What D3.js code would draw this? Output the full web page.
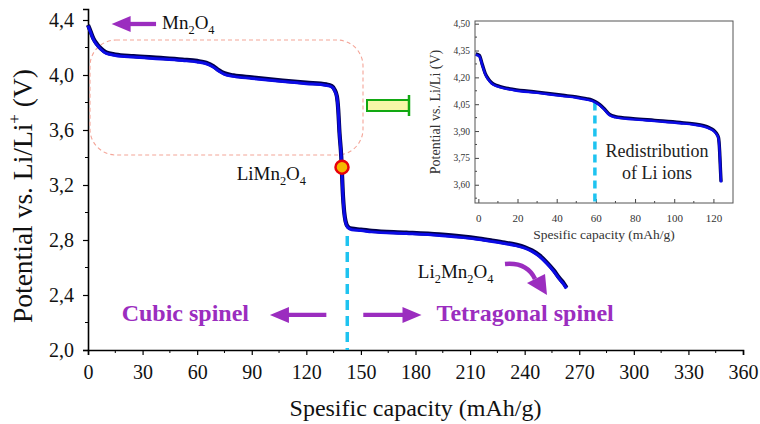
<!DOCTYPE html>
<html>
<head>
<meta charset="utf-8">
<script src="https://cdn.jsdelivr.net/npm/d3@7"></script>
<style>
  body { margin: 0; background: #fff; }
  svg, svg text { font-family: "Liberation Serif", "DejaVu Serif", "Times New Roman", Times, serif; }
</style>
</head>
<body>
<div id="chart"></div>
<script>
// main discharge curve (capacity mAh/g, potential V)
const mainCap = [0, 1.5, 3, 5, 7, 10, 15, 25, 40, 52, 60, 65, 69, 72, 75, 80, 90, 107, 120, 131, 134, 135.5, 136.8, 137.5, 138.2, 139.2, 140, 140.8, 141.6, 142.8, 145, 150, 156, 175, 193, 205, 215, 222, 229, 235, 240, 244, 248, 252, 256, 259, 261.5, 263]
const mainV   = [4.36, 4.31, 4.26, 4.22, 4.19, 4.16, 4.145, 4.133, 4.12, 4.108, 4.098, 4.085, 4.06, 4.03, 4.008, 3.993, 3.978, 3.955, 3.94, 3.927, 3.915, 3.89, 3.84, 3.75, 3.58, 3.40, 3.15, 3.0, 2.93, 2.893, 2.878, 2.872, 2.862, 2.85, 2.836, 2.822, 2.806, 2.792, 2.777, 2.762, 2.744, 2.72, 2.685, 2.635, 2.575, 2.52, 2.48, 2.45]

// inset curve
const insetCap = [-1.3, 0.5, 2, 3.5, 5, 7, 10, 18, 30, 43, 50, 55, 58, 60, 62, 64, 67, 70, 79, 90, 103, 110, 115, 118, 120, 121.5, 122.6, 123.2, 123.6, 123.9]
const insetV   = [4.328, 4.32, 4.27, 4.22, 4.19, 4.165, 4.15, 4.13, 4.115, 4.097, 4.088, 4.078, 4.07, 4.06, 4.045, 4.025, 3.99, 3.978, 3.967, 3.957, 3.945, 3.937, 3.927, 3.915, 3.903, 3.885, 3.86, 3.78, 3.68, 3.614]

const mainXTicks = d3.range(0, 361, 30)
const mainYTicks = [2.0, 2.4, 2.8, 3.2, 3.6, 4.0, 4.4]
const insetXTicks = [0, 20, 40, 60, 80, 100, 120]
const insetYTicks = [3.60, 3.75, 3.90, 4.05, 4.20, 4.35, 4.50]

const phaseBoundary = 142.5   // cubic / tetragonal
const redistribution = 59.5   // inset dashed line
const markerPoint = [139.6, 3.33]

const W = 760, H = 424
const purple = "#9b2dbf", blue = "#0b0be6", cyan = "#1ec3f0"
const serif = "'Liberation Serif', 'DejaVu Serif', 'Times New Roman', serif"

const svg = d3.select("#chart").append("svg")
  .attr("width", W).attr("height", H)
  .style("font-family", serif)

const x = d3.scaleLinear().domain([0, 360]).range([88, 743])
const y = d3.scaleLinear().domain([2.0, 4.48]).range([350, 9])

const comma = f => v => d3.format(f)(v).replace(".", ",")

// main axes
const gx = svg.append("g").attr("transform", `translate(0,${y(2.0)})`)
  .call(d3.axisBottom(x).tickValues(mainXTicks).tickSize(5).tickPadding(10).tickFormat(d3.format("d")))
gx.append("g").selectAll("line").data(d3.range(15, 360, 30)).enter().append("line")
  .attr("x1", d => x(d)).attr("x2", d => x(d)).attr("y1", 0).attr("y2", 3).attr("stroke", "#000")

const gy = svg.append("g").attr("transform", `translate(${x(0)},0)`)
  .call(d3.axisLeft(y).tickValues(mainYTicks).tickSize(5).tickPadding(9).tickFormat(comma(".1f")))
gy.append("g").selectAll("line").data([2.2, 2.6, 3.0, 3.4, 3.8, 4.2]).enter().append("line")
  .attr("y1", d => y(d)).attr("y2", d => y(d)).attr("x1", 0).attr("x2", -3).attr("stroke", "#000")

for (const g of [gx, gy]) {
  g.attr("font-family", null)
  g.select(".domain").attr("stroke-width", 1.6)
  g.selectAll(".tick line").attr("stroke-width", 1.2)
  g.selectAll("text").attr("font-size", 20).style("font-family", serif).attr("fill", "#111")
}

// axis titles
svg.append("text").attr("x", (x(0) + x(360)) / 2).attr("y", 416)
  .attr("text-anchor", "middle").attr("font-size", 24).attr("fill", "#111")
  .text("Spesific capacity (mAh/g)")

const yt = svg.append("text").attr("transform", `translate(32,${y(3.12)}) rotate(-90)`)
  .attr("text-anchor", "middle").attr("font-size", 27.5).attr("fill", "#111")
yt.append("tspan").text("Potential vs. Li/Li")
yt.append("tspan").attr("dy", -12).attr("font-size", 17).text("+")
yt.append("tspan").attr("dy", 12).text(" (V)")

// dashed rounded highlight box
svg.append("rect").attr("x", 90).attr("y", 40).attr("width", 273).attr("height", 115)
  .attr("rx", 26).attr("fill", "none").attr("stroke", "#f4a598")
  .attr("stroke-width", 1.1).attr("stroke-dasharray", "4,3")

// phase boundary dashed line
svg.append("line").attr("x1", x(phaseBoundary)).attr("x2", x(phaseBoundary))
  .attr("y1", y(2.83)).attr("y2", y(2.0))
  .attr("stroke", cyan).attr("stroke-width", 3.5).attr("stroke-dasharray", "10,6")

// main curve
const mainData = mainCap.map((c, i) => [c, mainV[i]])
const line = d3.line().x(d => x(d[0])).y(d => y(d[1])).curve(d3.curveMonotoneX)
svg.append("path").datum(mainData).attr("d", line)
  .attr("fill", "none").attr("stroke", "#00004a").attr("stroke-width", 4.2)
  .attr("transform", "translate(0,-0.6)")
svg.append("path").datum(mainData).attr("d", line)
  .attr("fill", "none").attr("stroke", blue).attr("stroke-width", 3)
  .attr("transform", "translate(0,0.4)")

// marker
svg.append("circle").attr("cx", x(markerPoint[0])).attr("cy", y(markerPoint[1])).attr("r", 6.5)
  .attr("fill", "#f5b800").attr("stroke", "#e8000a").attr("stroke-width", 2.5)

// straight arrows
function arrow(x1, x2, yy) {
  const dir = Math.sign(x2 - x1), headL = 19, headW = 8
  svg.append("line").attr("x1", x1).attr("x2", x2 - dir * headL + dir * 2)
    .attr("y1", yy).attr("y2", yy).attr("stroke", purple).attr("stroke-width", 4.3)
  svg.append("path").attr("fill", purple)
    .attr("d", `M${x2},${yy} L${x2 - dir * headL},${yy - headW} L${x2 - dir * headL},${yy + headW} Z`)
}
arrow(x(37.4), x(13), y(4.371))
arrow(x(131), x(100), y(2.255))
arrow(x(151.3), x(183.3), y(2.255))

// curved arrow to the end of the curve
svg.append("path").attr("d", "M505,264 Q527,262 535,279")
  .attr("fill", "none").attr("stroke", purple).attr("stroke-width", 4.5)
svg.append("path").attr("d", "M527,283 L545,274 L547,295 Z").attr("fill", purple)

// labels with subscripts
function chem(xx, yy, parts, size) {
  const t = svg.append("text").attr("x", xx).attr("y", yy).attr("font-size", size).attr("fill", "#111")
  let shifted = false
  parts.forEach(p => {
    const sub = typeof p === "number"
    const s = t.append("tspan").text(p)
    if (sub && !shifted) { s.attr("dy", 5).attr("font-size", size * 0.65); shifted = true }
    else if (sub) s.attr("font-size", size * 0.65)
    else if (shifted) { s.attr("dy", -5); shifted = false }
  })
  return t
}
chem(x(40.7), y(4.335), ["Mn", 2, "O", 4], 19)
chem(x(81.7), y(3.236), ["LiMn", 2, "O", 4], 19)
chem(x(181.3), y(2.524), ["Li", 2, "Mn", 2, "O", 4], 19)

svg.append("text").attr("x", x(18.5)).attr("y", y(2.21)).attr("font-size", 24)
  .attr("font-weight", "bold").attr("fill", purple).text("Cubic spinel")
svg.append("text").attr("x", x(191.6)).attr("y", y(2.21)).attr("font-size", 24)
  .attr("font-weight", "bold").attr("fill", purple).text("Tetragonal spinel")

// "equals" bracket symbol
svg.append("path").attr("d", "M408,100 L367,100 L367,111 L408,111")
  .attr("fill", "#f6f6a8").attr("stroke", "#12a812").attr("stroke-width", 2)
svg.append("line").attr("x1", 409).attr("x2", 409).attr("y1", 95).attr("y2", 116)
  .attr("stroke", "#12a812").attr("stroke-width", 2.5)

// ---------------- inset ----------------
const ix = d3.scaleLinear().domain([-1.7, 130]).range([475, 733])
const iy = d3.scaleLinear().domain([3.498, 4.515]).range([203, 21])
const inset = svg.append("g")

const igx = inset.append("g").attr("transform", `translate(0,203)`)
  .call(d3.axisBottom(ix).tickValues(insetXTicks).tickSizeInner(-4).tickSizeOuter(0).tickPadding(11).tickFormat(d3.format("d")))
igx.append("g").selectAll("line").data(d3.range(10, 130, 20)).enter().append("line")
  .attr("x1", d => ix(d)).attr("x2", d => ix(d)).attr("y1", 0).attr("y2", -2).attr("stroke", "#444")
const igy = inset.append("g").attr("transform", `translate(475,0)`)
  .call(d3.axisLeft(iy).tickValues(insetYTicks).tickSizeInner(-4).tickSizeOuter(0).tickPadding(5).tickFormat(comma(".2f")))
igy.append("g").selectAll("line").data([3.525, 3.675, 3.825, 3.975, 4.125, 4.275, 4.425]).enter().append("line")
  .attr("y1", d => iy(d)).attr("y2", d => iy(d)).attr("x1", 0).attr("x2", 2).attr("stroke", "#444")
for (const g of [igx, igy]) g.attr("font-family", null)
igx.selectAll("text").attr("font-size", 11).attr("fill", "#333").style("font-family", serif)
igy.selectAll("text").attr("font-size", 9.5).attr("fill", "#333").style("font-family", serif)
inset.selectAll(".tick line").attr("stroke", "#444")
inset.selectAll(".domain").attr("stroke", "none")
inset.append("rect").attr("x", 475).attr("y", 21).attr("width", 258).attr("height", 182)
  .attr("fill", "none").attr("stroke", "#555").attr("stroke-width", 1)

inset.append("text").attr("x", (ix(-1.7) + ix(130)) / 2).attr("y", 239)
  .attr("text-anchor", "middle").attr("font-size", 13.5).attr("fill", "#333")
  .text("Spesific capacity (mAh/g)")
inset.append("text").attr("transform", `translate(440,112) rotate(-90)`)
  .attr("text-anchor", "middle").attr("font-size", 14).attr("fill", "#333")
  .text("Potential vs. Li/Li  (V)")

inset.append("line").attr("x1", ix(redistribution)).attr("x2", ix(redistribution))
  .attr("y1", iy(4.06)).attr("y2", 203)
  .attr("stroke", cyan).attr("stroke-width", 3.5).attr("stroke-dasharray", "8,5")

const insetData = insetCap.map((c, i) => [c, insetV[i]])
const iline = d3.line().x(d => ix(d[0])).y(d => iy(d[1])).curve(d3.curveMonotoneX)
inset.append("path").datum(insetData).attr("d", iline)
  .attr("fill", "none").attr("stroke", "#00004a").attr("stroke-width", 3.4)
  .attr("transform", "translate(0,-0.5)")
inset.append("path").datum(insetData).attr("d", iline)
  .attr("fill", "none").attr("stroke", blue).attr("stroke-width", 2.4)
  .attr("transform", "translate(0,0.3)")

const note = inset.append("text").attr("text-anchor", "middle").attr("font-size", 18).attr("fill", "#222")
note.append("tspan").attr("x", 657).attr("y", 157).text("Redistribution")
note.append("tspan").attr("x", 657).attr("y", 179).text("of Li ions")
</script>
</body>
</html>
